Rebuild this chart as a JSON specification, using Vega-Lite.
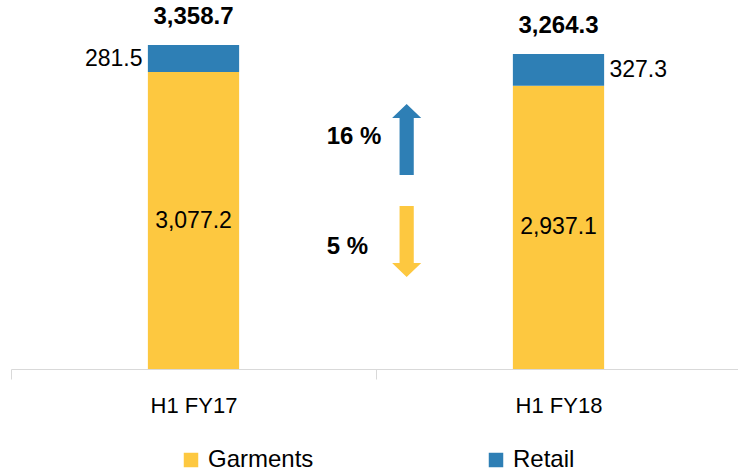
{
  "$schema": "https://vega.github.io/schema/vega-lite/v6.json",
  "width": 730,
  "height": 359,
  "autosize": {"type": "none"},
  "padding": {"left": 11, "top": 10, "right": 0, "bottom": 103},
  "config": {"font": "Liberation Sans", "view": {"stroke": null}},
  "datasets": {
    "segments": [
      {"period": "H1 FY17", "segment": "Garments", "value": 3077.2},
      {"period": "H1 FY17", "segment": "Retail", "value": 281.5},
      {"period": "H1 FY18", "segment": "Garments", "value": 2937.1},
      {"period": "H1 FY18", "segment": "Retail", "value": 327.3}
    ],
    "totals": [
      {"period": "H1 FY17", "total": 3358.7, "retail": 281.5},
      {"period": "H1 FY18", "total": 3264.3, "retail": 327.3}
    ],
    "changes": [
      {"segment": "Retail", "change": "16 %"},
      {"segment": "Garments", "change": "5 %"}
    ]
  },
  "resolve": {"scale": {"x": "independent", "y": "independent"}},
  "layer": [
    {
      "layer": [
        {
          "data": {"name": "segments"},
          "mark": {"type": "bar", "width": {"band": 0.25}},
          "encoding": {
            "x": {
              "field": "period", "type": "nominal",
              "scale": {"paddingInner": 0, "paddingOuter": 0},
              "axis": {"title": null, "domainColor": "#D9D9D9", "tickColor": "#D9D9D9", "tickSize": 10, "tickBand": "extent", "labelFontSize": 22, "labelColor": "#000000", "labelPadding": 16, "labelAngle": 0}
            },
            "y": {"field": "value", "type": "quantitative", "stack": "zero", "scale": {"domain": [0, 3721], "nice": false}, "axis": null},
            "color": {
              "field": "segment", "type": "nominal",
              "scale": {"domain": ["Garments", "Retail"], "range": ["#FDC840", "#2E7FB5"]},
              "legend": {"title": null, "orient": "none", "legendX": 168, "legendY": 438, "direction": "horizontal", "symbolType": "square", "symbolSize": 210, "symbolStrokeWidth": 0, "labelFontSize": 24, "labelOffset": 5, "columnPadding": 170, "padding": 0, "labelColor": "#000000"}
            },
            "order": {"field": "segment", "sort": "ascending"}
          }
        },
        {
          "data": {"name": "totals"},
          "mark": {"type": "text", "fontSize": 24, "fontWeight": "bold", "color": "#000000", "baseline": "middle", "dy": -28},
          "encoding": {
            "x": {"field": "period", "type": "nominal"},
            "y": {"field": "total", "type": "quantitative"},
            "text": {"field": "total", "type": "quantitative", "format": ",.1f"}
          }
        },
        {
          "data": {"name": "totals"},
          "transform": [{"filter": "datum.period === 'H1 FY17'"}],
          "mark": {"type": "text", "fontSize": 23, "color": "#000000", "baseline": "middle", "align": "right", "dx": -51, "dy": 14},
          "encoding": {
            "x": {"field": "period", "type": "nominal"},
            "y": {"field": "total", "type": "quantitative"},
            "text": {"field": "retail", "type": "quantitative", "format": ",.1f"}
          }
        },
        {
          "data": {"name": "totals"},
          "transform": [{"filter": "datum.period === 'H1 FY18'"}],
          "mark": {"type": "text", "fontSize": 23, "color": "#000000", "baseline": "middle", "align": "left", "dx": 51, "dy": 16},
          "encoding": {
            "x": {"field": "period", "type": "nominal"},
            "y": {"field": "total", "type": "quantitative"},
            "text": {"field": "retail", "type": "quantitative", "format": ",.1f"}
          }
        }
      ]
    },
    {
      "data": {"name": "segments"},
      "transform": [{"filter": "datum.segment === 'Garments'"}],
      "mark": {"type": "text", "fontSize": 23, "color": "#000000", "baseline": "middle"},
      "encoding": {
        "x": {"field": "period", "type": "nominal", "scale": {"paddingInner": 0, "paddingOuter": 0}, "axis": null},
        "y": {"field": "value", "type": "quantitative", "scale": {"domain": [0, 7442], "nice": false}, "axis": null},
        "text": {"field": "value", "type": "quantitative", "format": ",.1f"}
      }
    },
    {
      "data": {"name": "changes"},
      "layer": [
        {
          "transform": [{"filter": "datum.segment === 'Retail'"}],
          "mark": {"type": "point", "filled": true, "opacity": 1, "size": 5041, "strokeWidth": 0, "shape": "M0,-1 L0.41,-0.606 L0.2,-0.606 L0.2,1 L-0.2,1 L-0.2,-0.606 L-0.41,-0.606 Z"},
          "encoding": {
            "x": {"datum": 1.084, "type": "quantitative", "scale": {"domain": [0, 2], "nice": false, "zero": true}, "axis": null},
            "y": {"datum": 2379, "type": "quantitative", "scale": {"domain": [0, 3721], "nice": false}, "axis": null},
            "color": {"field": "segment", "type": "nominal", "scale": {"domain": ["Garments", "Retail"], "range": ["#FDC840", "#2E7FB5"]}, "legend": null}
          }
        },
        {
          "transform": [{"filter": "datum.segment === 'Retail'"}],
          "mark": {"type": "text", "fontSize": 24, "fontWeight": "bold", "color": "#000000", "align": "left", "baseline": "middle"},
          "encoding": {
            "x": {"datum": 0.865, "type": "quantitative"},
            "y": {"datum": 2405, "type": "quantitative"},
            "text": {"field": "change"}
          }
        },
        {
          "transform": [{"filter": "datum.segment === 'Garments'"}],
          "mark": {"type": "point", "filled": true, "opacity": 1, "size": 5041, "strokeWidth": 0, "shape": "M0,1 L0.41,0.606 L0.2,0.606 L0.2,-1 L-0.2,-1 L-0.2,0.606 L-0.41,0.606 Z"},
          "encoding": {
            "x": {"datum": 1.084, "type": "quantitative"},
            "y": {"datum": 1322, "type": "quantitative"},
            "color": {"field": "segment", "type": "nominal", "legend": null}
          }
        },
        {
          "transform": [{"filter": "datum.segment === 'Garments'"}],
          "mark": {"type": "text", "fontSize": 24, "fontWeight": "bold", "color": "#000000", "align": "left", "baseline": "middle"},
          "encoding": {
            "x": {"datum": 0.865, "type": "quantitative"},
            "y": {"datum": 1265, "type": "quantitative"},
            "text": {"field": "change"}
          }
        }
      ]
    }
  ]
}
